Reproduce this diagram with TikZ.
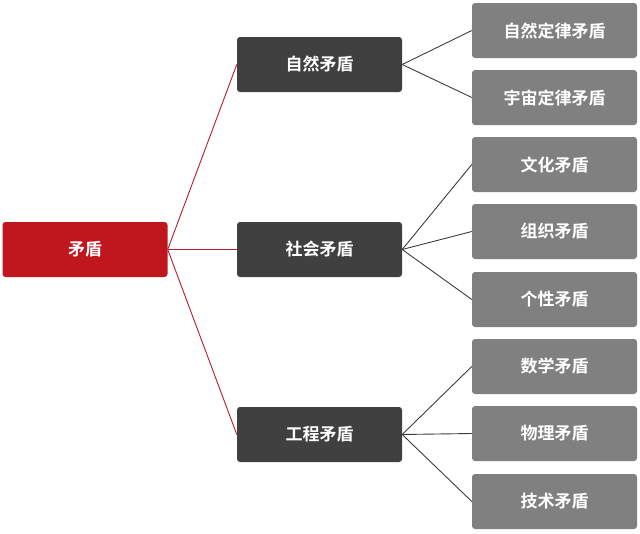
\documentclass[tikz,border=0pt]{standalone}
\usepackage{fontspec}
\newfontfamily\cjk{Noto Sans CJK SC Bold}
\begin{document}
\begin{tikzpicture}[x=1pt,y=-1pt,
  box/.style={rounded corners=3pt,minimum width=165pt,minimum height=55pt,text=white,font=\cjk\fontsize{17pt}{20pt}\selectfont,inner sep=0pt},
  rootbox/.style={box,fill={rgb,255:red,192;green,22;blue,30}},
  midbox/.style={box,fill={rgb,255:red,64;green,64;blue,64}},
  leafbox/.style={box,fill={rgb,255:red,128;green,128;blue,128}},
  redline/.style={draw={rgb,255:red,180;green,30;blue,40},line width=0.9pt},
  grayline/.style={draw={rgb,255:red,60;green,60;blue,60},line width=0.9pt}]
\useasboundingbox (0,0) rectangle (640,533);
\node[rootbox] (r) at (85,249.5) {矛盾};
\node[midbox] (m1) at (319.5,64.5) {自然矛盾};
\node[midbox] (m2) at (319.5,249.5) {社会矛盾};
\node[midbox] (m3) at (319.5,434.5) {工程矛盾};
\node[leafbox] (l1) at (554.5,30.5) {自然定律矛盾};
\node[leafbox] (l2) at (554.5,97.5) {宇宙定律矛盾};
\node[leafbox] (l3) at (554.5,164.5) {文化矛盾};
\node[leafbox] (l4) at (554.5,231.5) {组织矛盾};
\node[leafbox] (l5) at (554.5,299.5) {个性矛盾};
\node[leafbox] (l6) at (554.5,366.5) {数学矛盾};
\node[leafbox] (l7) at (554.5,433.5) {物理矛盾};
\node[leafbox] (l8) at (554.5,501.5) {技术矛盾};
\foreach \m in {m1,m2,m3} \draw[redline] (r.east) -- (\m.west);
\foreach \l in {l1,l2} \draw[grayline] (m1.east) -- (\l.west);
\foreach \l in {l3,l4,l5} \draw[grayline] (m2.east) -- (\l.west);
\foreach \l in {l6,l7,l8} \draw[grayline] (m3.east) -- (\l.west);
\end{tikzpicture}
\end{document}
